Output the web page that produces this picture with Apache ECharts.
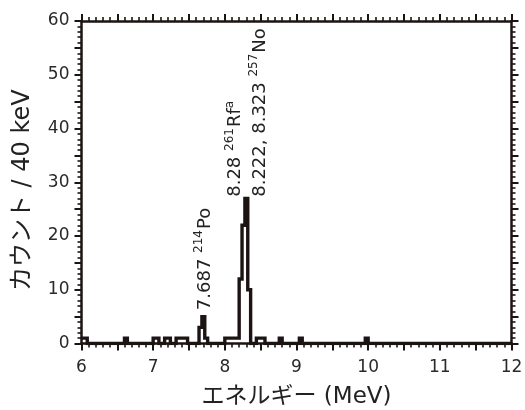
<!DOCTYPE html>
<html>
<head>
<meta charset="utf-8">
<script src="https://cdn.jsdelivr.net/npm/echarts@6/dist/echarts.min.js"></script>
<style>html,body{margin:0;padding:0;background:#fff}#c{width:525px;height:410px}</style>
</head>
<body>
<div id="c"></div>
<script>
// Histogram: 40 keV bins from 6 to 12 MeV; only non-zero bins listed
const binStart = [6.00, 6.04, 6.60, 7.00, 7.04, 7.16, 7.20, 7.32, 7.36, 7.40, 7.44,
                  7.64, 7.68, 7.72, 8.00, 8.04, 8.08, 8.12, 8.16, 8.20, 8.24, 8.28, 8.32,
                  8.44, 8.48, 8.52, 8.76, 9.04, 9.96];
const binCount = [1, 1, 1, 1, 1, 1, 1, 1, 1, 1, 1,
                  3, 5, 1, 1, 1, 1, 1, 1, 12, 22, 27, 10,
                  1, 1, 1, 1, 1, 1];
const binWidth = 0.04;
const xRange = [6, 12];
const yRange = [0, 60];

// Peak annotations (anchor = bottom of the rotated text, in data units)
const annoText = ['{n|7.687 }{s|214}{n|Po}', '{n|8.28 }{s|261}{n|Rf}{s|a}', '{n|8.222, 8.323 }{s|257}{n|No}'];
const annoX = [7.70, 8.13, 8.47];
const annoY = [6.2, 27.3, 27.3];

const xName = 'エネルギー (MeV)';
const yName = 'カウント / 40 keV';

const INK = '#1c1412';
const FONT = '"DejaVu Sans", "Noto Sans CJK JP", sans-serif';

const countMap = {};
binStart.forEach((b, i) => { countMap[b.toFixed(2)] = binCount[i]; });
const nBins = Math.round((xRange[1] - xRange[0]) / binWidth);
const histData = [];
for (let i = 0; i < nBins; i++) {
  const x = +(xRange[0] + i * binWidth).toFixed(2);
  histData.push([x, countMap[x.toFixed(2)] || 0]);
}
histData.push([xRange[1], histData[histData.length - 1][1]]);

const chart = echarts.init(document.getElementById('c'), null, {renderer: 'canvas'});

function axisCommon() {
  return {
    axisLine: {show: true, onZero: false, lineStyle: {color: INK, width: 2.5}},
    axisTick: {show: true, inside: false, length: 7, lineStyle: {color: INK, width: 2}},
    minorTick: {show: true, splitNumber: 5, length: 4, lineStyle: {color: INK, width: 1.6}},
    splitLine: {show: false},
    minorSplitLine: {show: false}
  };
}

const option = {
  animation: false,
  backgroundColor: '#fff',
  grid: {left: 81.5, right: 13.5, top: 21, bottom: 66.5, containLabel: false, outerBoundsMode: 'none'},
  xAxis: [
    Object.assign(axisCommon(), {
      type: 'value', min: xRange[0], max: xRange[1], interval: 0.5, position: 'bottom',
      name: xName, nameLocation: 'middle', nameGap: 42,
      nameTextStyle: {fontFamily: FONT, fontSize: 23, color: '#222'},
      axisLabel: {margin: 16, fontFamily: FONT, fontSize: 17, color: '#2a2a2a',
        formatter: v => (Math.abs(v - Math.round(v)) < 1e-9 ? String(Math.round(v)) : '')}
    }),
    Object.assign(axisCommon(), {
      type: 'value', min: xRange[0], max: xRange[1], interval: 0.5, position: 'top',
      axisLabel: {show: false}
    })
  ],
  yAxis: [
    Object.assign(axisCommon(), {
      type: 'value', min: yRange[0], max: yRange[1], interval: 5, position: 'left',
      name: yName, nameLocation: 'middle', nameGap: 47, nameRotate: 90,
      nameTextStyle: {fontFamily: FONT, fontSize: 24, color: '#222', padding: [0, 16, 0, 0]},
      axisLabel: {margin: 12, fontFamily: FONT, fontSize: 17, color: '#2a2a2a',
        formatter: v => (v % 10 === 0 ? String(v) : '')}
    }),
    Object.assign(axisCommon(), {
      type: 'value', min: yRange[0], max: yRange[1], interval: 5, position: 'right',
      axisLabel: {show: false}
    })
  ],
  series: [{
    type: 'line',
    xAxisIndex: 0, yAxisIndex: 0,
    data: histData,
    step: 'end',
    symbol: 'none',
    clip: true,
    lineStyle: {color: INK, width: 3.4, join: 'miter', cap: 'butt'},
    z: 3
  }]
};
chart.setOption(option);

const richStyle = {
  n: {fontFamily: FONT, fontSize: 18, color: '#222', lineHeight: 21, verticalAlign: 'bottom'},
  s: {fontFamily: FONT, fontSize: 12, color: '#222', lineHeight: 21, verticalAlign: 'top', padding: [0, 1, 0, 0]}
};
const graphics = annoText.map((t, i) => {
  const p = chart.convertToPixel({xAxisIndex: 0, yAxisIndex: 0}, [annoX[i], annoY[i]]);
  return {
    type: 'text',
    x: p[0], y: p[1],
    rotation: Math.PI / 2,
    z: 10,
    style: {text: t, rich: richStyle, align: 'left', verticalAlign: 'middle',
            textAlign: 'left', textVerticalAlign: 'middle', fill: '#222'}
  };
});
chart.setOption({graphic: graphics});
</script>
</body>
</html>
